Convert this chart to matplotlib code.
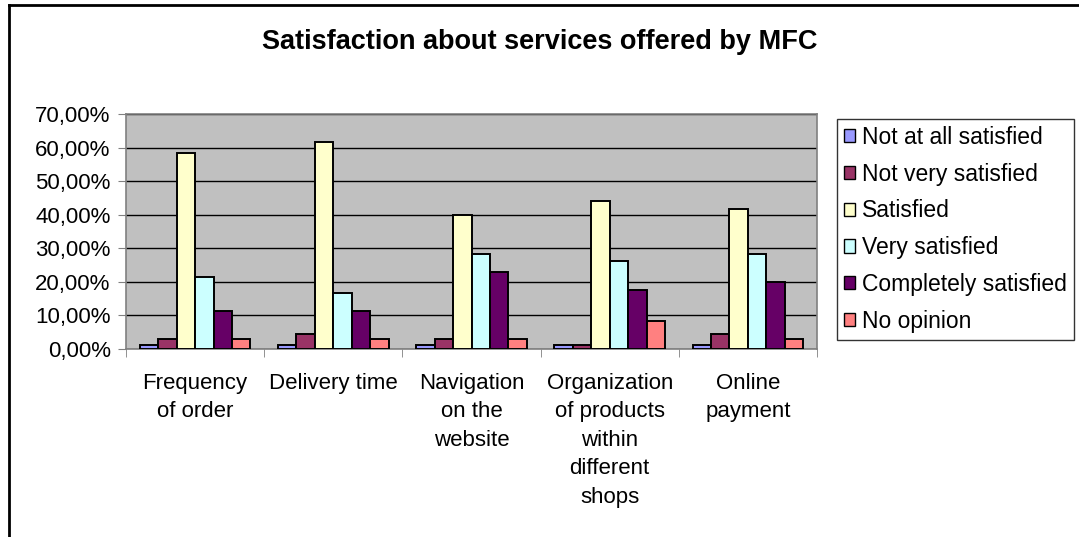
import numpy as np
import matplotlib.pyplot as plt
from matplotlib.ticker import FuncFormatter, FixedLocator
from matplotlib.lines import Line2D

plt.rcParams['font.family'] = ['Liberation Sans', 'DejaVu Sans']

categories = ["Frequency\nof order", "Delivery time", "Navigation\non the\nwebsite",
              "Organization\nof products\nwithin\ndifferent\nshops", "Online\npayment"]
series = ["Not at all satisfied", "Not very satisfied", "Satisfied",
          "Very satisfied", "Completely satisfied", "No opinion"]

# percentages per series, one value per category
not_at_all = [1.2, 1.2, 1.2, 1.2, 1.2]
not_very = [3.0, 4.5, 3.0, 1.2, 4.5]
satisfied = [58.4, 61.6, 39.9, 44.2, 41.6]
very = [21.3, 16.8, 28.3, 26.1, 28.3]
completely = [11.3, 11.3, 23.0, 17.7, 19.9]
no_opinion = [3.0, 3.0, 3.0, 8.4, 3.0]
values = [not_at_all, not_very, satisfied, very, completely, no_opinion]

colors = ["#9999FF", "#993366", "#FFFFCC", "#CCFFFF", "#660066", "#FF8080"]

fig = plt.figure(figsize=(10.79, 5.37), dpi=100)
ax = fig.add_axes([0.1168, 0.3501, 0.6404, 0.4376])
ax.set_facecolor("#C0C0C0")

x = np.arange(len(categories))
w = 0.8 / len(series)
for i, (name, vals) in enumerate(zip(series, values)):
    ax.bar(x - 0.4 + w * (i + 0.5), vals, width=w, color=colors[i],
           edgecolor="black", linewidth=1.4, label=name, zorder=3)

ax.set_xlim(-0.5, len(categories) - 0.5)
ax.set_ylim(0, 70)
ax.set_yticks(np.arange(0, 71, 10))
ax.yaxis.set_major_formatter(FuncFormatter(lambda v, p: f"{v:.2f}%".replace(".", ",")))
ax.yaxis.grid(True, color="black", linewidth=1.0, zorder=1)
ax.set_axisbelow(True)

# category labels centred, tick marks on the group boundaries
ax.set_xticks(x)
ax.set_xticklabels(categories, fontsize=16, linespacing=1.47, va="top")
ax.tick_params(axis="x", length=0, pad=17)
ax.xaxis.set_minor_locator(FixedLocator(np.arange(-0.5, len(categories), 1.0)))
ax.tick_params(axis="x", which="minor", length=6, color="#808080", direction="out")
ax.tick_params(axis="y", labelsize=16, length=6, color="#808080", pad=5)

for s in ax.spines.values():
    s.set_color("#808080")
    s.set_linewidth(1.2)

fig.text(0.5, 1 - 42 / 537, "Satisfaction about services offered by MFC",
         ha="center", va="center", fontsize=19.5, fontweight="bold")

handles = [plt.Rectangle((0, 0), 1, 1, facecolor=c, edgecolor="black", linewidth=1)
           for c in colors]
leg = fig.legend(handles, series, loc="upper left",
                 bbox_to_anchor=(837 / 1079, 1 - 119 / 537),
                 fontsize=16.5, frameon=True, fancybox=False, edgecolor="black",
                 handlelength=0.5, handleheight=0.5, handletextpad=0.3,
                 labelspacing=0.6, borderpad=0.3, borderaxespad=0)
leg.get_frame().set_linewidth(1.0)

# outer frame of the chart area (left and top edges)
fig.add_artist(Line2D([8.5 / 1079, 8.5 / 1079], [0, 1 - 4.5 / 537],
                      transform=fig.transFigure, color="black", linewidth=2))
fig.add_artist(Line2D([8.5 / 1079, 1], [1 - 4.5 / 537, 1 - 4.5 / 537],
                      transform=fig.transFigure, color="black", linewidth=2))

fig.savefig("out.png", dpi=100)
